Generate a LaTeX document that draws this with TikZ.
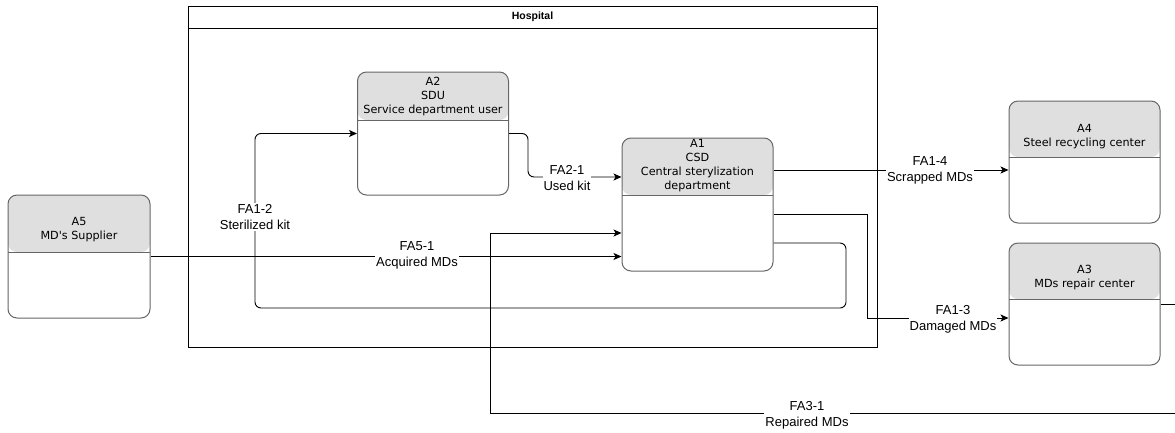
\documentclass[tikz,border=0pt]{standalone}
\usepackage{fontspec}
\setmainfont{Liberation Sans}
\newfontfamily\unitfont{DejaVu Sans}
\usetikzlibrary{arrows.meta}

\tikzset{
  unit/.style={draw=black!60, line width=1pt, rounded corners=9pt, inner sep=0pt,
    minimum width=151pt,
    path picture={
      \fill[gray!25] (path picture bounding box.north west)
        rectangle ([yshift=-#1]path picture bounding box.north east);
      \draw[line width=1pt] ([yshift=-#1]path picture bounding box.north west)
        -- ([yshift=-#1]path picture bounding box.north east);}},
  unittext/.style={font=\unitfont\fontsize{11.2}{14}\selectfont, align=center, inner sep=0pt},
  flow/.style={draw=black, line width=0.9pt, -{Stealth[length=8pt,width=7pt,inset=2pt]}},
  flowlabel/.style={fill=white, font=\fontsize{13}{16}\selectfont, align=center, inner sep=1pt},
}

\begin{document}
\begin{tikzpicture}[x=1pt,y=-1pt]
    \useasboundingbox (0,0) rectangle (1175,432);
    \clip (0,0) rectangle (1175,432);

    % Hospital
    \node[draw, line width=1pt, inner sep=0pt, minimum width=689pt, minimum height=341pt]
        (hosp) at (532.5,176.5) {};
    \draw[line width=1pt] (hosp.west |- 0,28) -- (hosp.east |- 0,28);
    \node[font=\bfseries\fontsize{10.5}{12}\selectfont] (hospt) at (532.5,17) {Hospital};

    % Units
    \node[unit=57pt, minimum width=142pt, minimum height=123pt] (a5) at (79,256.5) {};
    \node[unittext] (a5t) at ([yshift=-35pt]a5.north) {A5\\MD's Supplier};

    \node[unit=48pt, minimum height=123pt] (a2) at (433,133.5) {};
    \node[unittext] (a2t) at ([yshift=-25pt]a2.north) {A2\\SDU\\Service department user};

    \node[unit=57pt, minimum height=133pt] (a1) at (697.5,204.5) {};
    \node[unittext] (a1t) at ([yshift=-28pt]a1.north) {A1\\CSD\\Central sterylization\\department};

    \node[unit=56pt, minimum height=122pt] (a4) at (1084.5,162) {};
    \node[unittext] (a4t) at ([yshift=-36pt]a4.north) {A4\\Steel recycling center};

    \node[unit=56pt, minimum height=122pt] (a3) at (1084.5,304) {};
    \node[unittext] (a3t) at ([yshift=-35.5pt]a3.north) {A3\\MDs repair center};

    % Flows
    \draw[flow, rounded corners=6pt] (a2.east) -| (528,177) -- (a1.west |- 0,177);
    \draw[flow, rounded corners=6pt] (a1.east |- 0,243) -| (846,308) -| (a2.west -| 255,0) -- (a2.west);
    \draw[flow] (a5.east) -- (a1.west |- a5.east);
    \draw[flow] (a1.east |- 0,170) -- (a4.west |- 0,170);
    \draw[flow] (a1.east |- 0,214) -| (867,318) -- (a3.west |- 0,318);
    \draw[flow] (a3.east) -| (1190,413) -| (490,233) -- (a1.west |- 0,233);

    % Labels
    \node[flowlabel] (fa21) at (567,178) {FA2-1\\Used kit};
    \node[flowlabel] (fa12) at (255,217) {FA1-2\\Sterilized kit};
    \node[flowlabel] (fa51) at (417,255) {FA5-1\\Acquired MDs};
    \node[flowlabel] (fa14) at (930,170) {FA1-4\\Scrapped MDs};
    \node[flowlabel] (fa13) at (953,319) {FA1-3\\Damaged MDs};
    \node[flowlabel] (fa31) at (807,415) {FA3-1\\Repaired MDs};
  \end{tikzpicture}
\end{document}
